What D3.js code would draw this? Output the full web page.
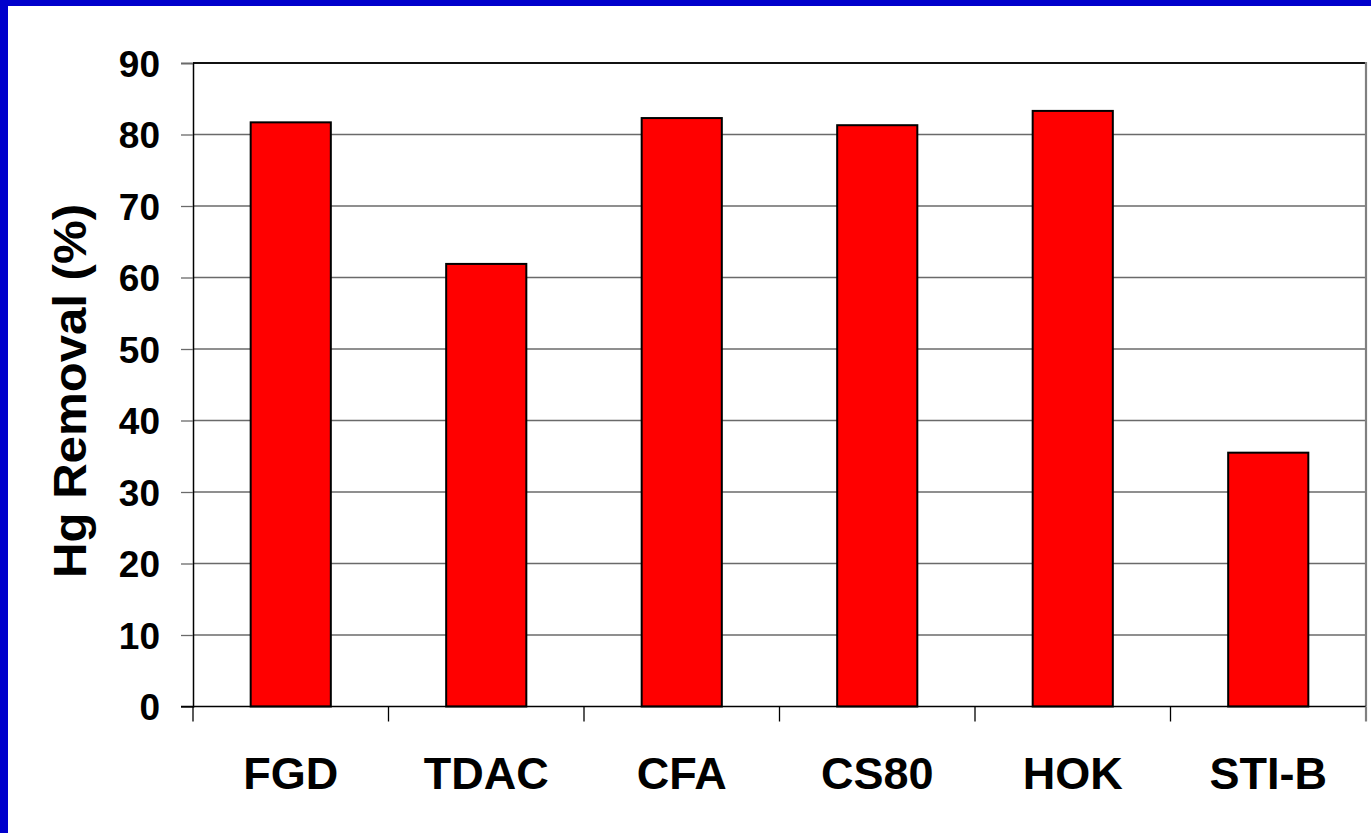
<!DOCTYPE html>
<html>
<head>
<meta charset="utf-8">
<script src="https://cdn.jsdelivr.net/npm/d3@7"></script>
<style>
  html, body { margin: 0; padding: 0; background: #ffffff; }
  svg { display: block; }
  text { font-family: "Liberation Sans", Arial, sans-serif; font-weight: bold; fill: #000; }
</style>
</head>
<body>
<svg id="chart" width="1371" height="833"></svg>
<script>
// Mercury removal by sorbent / process
const categories = ["FGD", "TDAC", "CFA", "CS80", "HOK", "STI-B"];
const removal = [81.7, 61.9, 82.3, 81.3, 83.3, 35.5];
const yTicks = [0, 10, 20, 30, 40, 50, 60, 70, 80, 90];
const yTitle = "Hg Removal (%)";

const W = 1371, H = 833;
const plot = { left: 193, right: 1366, top: 63, bottom: 706.5 };

const svg = d3.select("#chart");

// slide frame: blue bands on left and top
svg.append("rect").attr("x", 0).attr("y", 0).attr("width", W).attr("height", H).attr("fill", "#ffffff");
svg.append("rect").attr("x", 0).attr("y", 0).attr("width", 8).attr("height", H).attr("fill", "#0000CC");
svg.append("rect").attr("x", 0).attr("y", 0).attr("width", W).attr("height", 6).attr("fill", "#0000CC");

const x = d3.scaleBand()
  .domain(categories)
  .range([plot.left, plot.right])
  .paddingInner(0.59)
  .paddingOuter(0.295);

const y = d3.scaleLinear()
  .domain([0, 90])
  .range([plot.bottom, plot.top]);

// horizontal gridlines
svg.append("g")
  .selectAll("line")
  .data(yTicks.filter(d => d > 0 && d < 90))
  .join("line")
  .attr("x1", plot.left).attr("x2", plot.right)
  .attr("y1", d => y(d)).attr("y2", d => y(d))
  .attr("stroke", "#6a6a6a").attr("stroke-width", 1.3);

// plot frame: top and right edges
svg.append("line")
  .attr("x1", plot.left).attr("x2", plot.right)
  .attr("y1", y(90)).attr("y2", y(90))
  .attr("stroke", "#111").attr("stroke-width", 1.8);
svg.append("line")
  .attr("x1", plot.right).attr("x2", plot.right)
  .attr("y1", y(90) - 1).attr("y2", y(0))
  .attr("stroke", "#808080").attr("stroke-width", 2.2);

// bars
svg.append("g")
  .selectAll("rect")
  .data(categories.map((c, i) => ({ c, v: removal[i] })))
  .join("rect")
  .attr("x", d => x(d.c))
  .attr("y", d => y(d.v))
  .attr("width", x.bandwidth())
  .attr("height", d => y(0) - y(d.v))
  .attr("fill", "#FF0000")
  .attr("stroke", "#000")
  .attr("stroke-width", 2);

// y axis
const yAxis = d3.axisLeft(y).tickValues(yTicks).tickSize(12).tickPadding(21);
const gy = svg.append("g").attr("transform", `translate(${plot.left},0)`).call(yAxis);
gy.select(".domain").attr("stroke", "#000").attr("stroke-width", 1.5);
gy.selectAll(".tick line").attr("stroke", "#6a6a6a").attr("stroke-width", 1.3);
gy.selectAll(".tick text")
  .attr("font-size", 37)
  .attr("font-family", "'Liberation Sans', Arial, sans-serif")
  .attr("font-weight", "bold")
  .attr("fill", "#000")
  .attr("dy", "0.36em");

// x axis baseline with ticks at category boundaries
const bounds = d3.range(categories.length + 1).map(i => plot.left + i * (plot.right - plot.left) / categories.length);
svg.append("line")
  .attr("x1", plot.left - 12).attr("x2", plot.right)
  .attr("y1", y(0)).attr("y2", y(0))
  .attr("stroke", "#000").attr("stroke-width", 1.6);
svg.append("g")
  .selectAll("line")
  .data(bounds)
  .join("line")
  .attr("x1", d => d).attr("x2", d => d)
  .attr("y1", y(0)).attr("y2", y(0) + 15)
  .attr("stroke", d => d === plot.right ? "#808080" : "#000")
  .attr("stroke-width", d => d === plot.right ? 2.2 : 1.3);

// category labels
svg.append("g")
  .selectAll("text")
  .data(categories)
  .join("text")
  .attr("x", d => x(d) + x.bandwidth() / 2)
  .attr("y", 789)
  .attr("text-anchor", "middle")
  .attr("font-size", 45)
  .text(d => d);

// y axis title
svg.append("text")
  .attr("transform", `translate(86, 391) rotate(-90)`)
  .attr("text-anchor", "middle")
  .attr("font-size", 46)
  .attr("textLength", 374)
  .attr("lengthAdjust", "spacingAndGlyphs")
  .text(yTitle);
</script>
</body>
</html>
